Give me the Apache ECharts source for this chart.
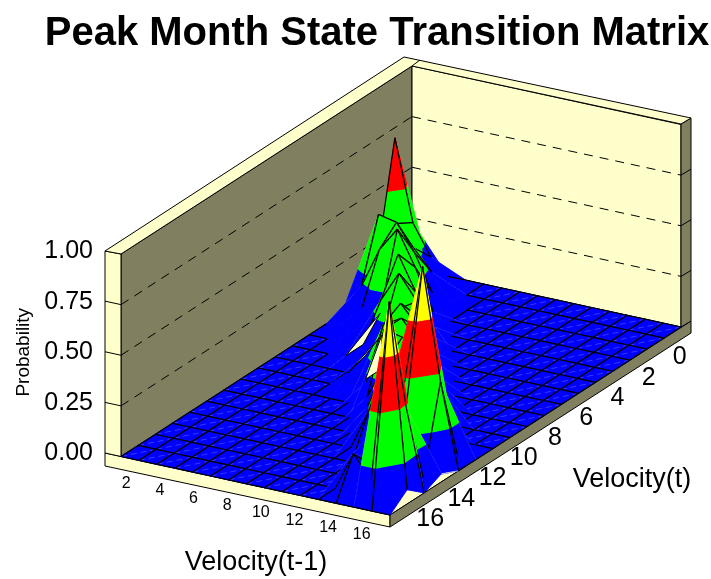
<!DOCTYPE html>
<html><head><meta charset="utf-8">
<style>html,body{margin:0;padding:0;background:#fff}#c{width:711px;height:579px}</style>
<script src="https://cdn.jsdelivr.net/npm/echarts@6/dist/echarts.min.js"></script>
</head><body><div id="c"></div>
<script>
// Probability surface, one array per Velocity(t-1) grid row, 18 Velocity(t) columns
const row00=[.02,.70,.18,.06,.02,0,0,0,0,0,0,0,0,0,0,0,0,0];
const row01=[0,.30,.35,.45,.15,.03,0,0,0,0,0,0,0,0,0,0,0,0];
const row02=[0,.15,.25,.43,.35,.12,.03,0,0,0,0,0,0,0,0,0,0,0];
const row03=[0,.001,.15,.30,.47,.11,.01,.01,0,0,0,0,0,0,0,0,0,0];
const row04=[0,0,.03,.12,.30,.42,.25,.10,0,0,0,0,0,0,0,0,0,0];
const row05=[0,0,0,0,.10,.25,.40,.15,.10,.07,0,0,0,0,0,0,0,0];
const row06=[0,0,0,0,0,.10,.28,.30,.06,.06,0,0,0,0,0,0,0,0];
const row07=[0,0,0,0,0,0,.12,.28,.40,.35,.12,0,0,0,0,0,0,0];
const row08=[0,0,0,0,0,0,0,.12,.30,.40,.40,.12,0,0,0,0,0,0];
const row09=[0,0,0,0,0,0,0,0,.14,.30,.38,.30,.15,0,0,0,0,0];
const row10=[0,0,0,0,0,0,0,0,0,.15,.35,.38,.38,.20,0,0,0,0];
const row11=[0,0,0,0,0,0,0,0,0,0,.20,.38,.38,.35,.15,0,0,0];
const row12=[0,0,0,0,0,0,0,0,0,0,0,.25,.35,.38,.35,.08,.19,0];
const row13=[0,0,0,0,0,0,0,0,0,0,0,0,.20,.97,.30,.10,.08,0];
const row14=[0,0,0,0,0,0,0,0,0,0,0,0,.001,.42,.001,.40,.98,0];
const row15=[0,0,0,0,0,0,0,0,0,0,0,0,0,0,.04,0,.07,0];
const surfaceRows=[row00,row01,row02,row03,row04,row05,row06,row07,row08,row09,row10,row11,row12,row13,row14,row15];

// undersides of the surface that show through between the ridges: triples of grid nodes
const undersideFacets=[
  [[3,7],[3,6],[3,5]],
  [[5,9],[5,8],[5,7]],
  [[6,9],[6,8],[5,7]]
];

const xTicks=[2,4,6,8,10,12,14,16];
const yTicks=[0,2,4,6,8,10,12,14,16];
const zGrid=[0.25,0.5,0.75];
const bandLevels=[0.2,0.46,0.72];
const bandColors=['#0000ff','#00ff00','#ff0000','#ffff00'];
const TITLE='Peak Month State Transition Matrix';

// oblique view of the box (pixel plane of the hidden axes)
const view={B:[412,268.5],di:[269/15,58.5/15],dj:[-291/17,188/17],dz:-202.5};
const P=(i,j,z)=>[view.B[0]+view.di[0]*i+view.dj[0]*j, view.B[1]+view.di[1]*i+view.dj[1]*j+view.dz*(z||0)];
const nI=surfaceRows.length-1, nJ=surfaceRows[0].length-1;
const xToI=v=>(v-1)/16*nI;       // Velocity(t-1) domain 1..17 over grid width
const yToJ=v=>(v+1)/18.65*nJ;    // Velocity(t) domain -1..17.65 over grid depth

function clip(poly,level,keepAbove){
  const out=[];
  for(let k=0;k<poly.length;k++){
    const a=poly[k],b=poly[(k+1)%poly.length];
    const ia=keepAbove?a[2]>=level:a[2]<=level, ib=keepAbove?b[2]>=level:b[2]<=level;
    if(ia)out.push(a);
    if(ia!==ib){const t=(level-a[2])/(b[2]-a[2]);out.push([a[0]+(b[0]-a[0])*t,a[1]+(b[1]-a[1])*t,level]);}
  }
  return out;
}
function triArea(t){const a=P(...t[0]),b=P(...t[1]),c=P(...t[2]);return (b[0]-a[0])*(c[1]-a[1])-(b[1]-a[1])*(c[0]-a[0]);}

function renderCell(params,api){
  const i=api.value(0),j=api.value(1),facet=api.value(2);
  if(facet>=0){
    const f=undersideFacets[facet];
    const pts=f.map(n=>api.coord(P(n[0],n[1],surfaceRows[n[0]][n[1]])));
    return {type:'polygon',shape:{points:pts},style:{fill:'#ffffcc',stroke:'#000',lineWidth:1}};
  }
  const Z=(a,b)=>surfaceRows[a][b];
  const pt=(a,b)=>[a,b,Z(a,b)];
  const toPx=p=>api.coord(P(p[0],p[1],p[2]));
  const A=pt(i,j),Bq=pt(i+1,j),C=pt(i+1,j+1),D=pt(i,j+1);
  const kids=[];
  const tris=[[A,Bq,D],[C,D,Bq]];
  tris.forEach(t=>{
    if(triArea(t)<=0){
      const pts=t.map(toPx);
      kids.push({type:'polygon',shape:{points:pts},style:{fill:'#ffffcc',stroke:'#ffffcc',lineWidth:.4}});
      return;
    }
    const bounds=[-1,...bandLevels,2];
    for(let b=0;b<4;b++){
      let poly=clip(t,bounds[b],true);
      if(poly.length>2)poly=clip(poly,bounds[b+1],false);
      if(poly.length>2)kids.push({type:'polygon',shape:{points:poly.map(toPx)},style:{fill:bandColors[b],stroke:bandColors[b],lineWidth:.9}});
    }
  });
  if(A[2]+Bq[2]+C[2]+D[2]===0){
    kids.push({type:'line',shape:{x1:toPx(D)[0],y1:toPx(D)[1],x2:toPx(Bq)[0],y2:toPx(Bq)[1]},style:{stroke:'rgba(255,255,255,.3)',lineWidth:.7,lineDash:[6,4]}});
  }
  [[A,Bq],[Bq,C],[C,D],[D,A]].forEach(e=>{
    const hi=Math.max(e[0][2],e[1][2]);
    if(hi===0||hi>=0.18){
      const p=toPx(e[0]),q=toPx(e[1]);
      kids.push({type:'line',shape:{x1:p[0],y1:p[1],x2:q[0],y2:q[1]},style:{stroke:'#000',lineWidth:1.2}});
    }
  });
  return {type:'group',children:kids};
}

const FACET_DEPTH=22;
const cells=[];
for(let s=0;s<=nI+nJ;s++){
  if(s===FACET_DEPTH)undersideFacets.forEach((f,k)=>cells.push([0,0,k]));
  for(let i=0;i<nI;i++){const j=s-i;if(j>=0&&j<nJ)cells.push([i,j,-1]);}
}

function renderBox(params,api){
  const c=(x,y)=>api.coord([x,y]);
  const pxy=(i,j,z)=>{const p=P(i,j,z);return api.coord(p);};
  const stroke={stroke:'#000',lineWidth:1};
  const poly=(pts,fill)=>({type:'polygon',shape:{points:pts},style:Object.assign({fill},stroke)});
  const dark='#808060',light='#ffffcc';
  const kids=[
    poly([c(105,453),c(390,515),c(691,321),c(412,268.5)],light),
    poly([c(105,453),c(390,515),c(390,527),c(105,466)],light),
    poly([c(390,515),c(691,321),c(691,333),c(390,527)],dark),
    poly([P(0,0,0),P(0,nJ,0),P(0,nJ,1),P(0,0,1)].map(p=>c(p[0],p[1])),dark),
    poly([P(0,0,0),P(nI,0,0),P(nI,0,1),P(0,0,1)].map(p=>c(p[0],p[1])),light),
    poly([c(105,453),c(121,456.5),c(121,254),c(105,251)],light),
    poly([c(681,327),c(691,321),c(691,118),c(681,124)],dark),
    poly([c(105,251),c(404,57),c(691,118),c(681,124),c(412,66),c(121,254)],light),
    {type:'line',shape:{x1:c(412,66)[0],y1:c(412,66)[1],x2:c(420,60)[0],y2:c(420,60)[1]},style:stroke}
  ];
  zGrid.forEach(z=>{
    const a=P(0,nJ,z),d=P(nI,0,z);
    kids.push({type:'line',shape:{x1:pxy(0,nJ,z)[0],y1:pxy(0,nJ,z)[1],x2:pxy(0,0,z)[0],y2:pxy(0,0,z)[1]},style:{stroke:'#000',lineWidth:1,lineDash:[9,7]}});
    kids.push({type:'line',shape:{x1:pxy(0,0,z)[0],y1:pxy(0,0,z)[1],x2:pxy(nI,0,z)[0],y2:pxy(nI,0,z)[1]},style:{stroke:'#000',lineWidth:1,lineDash:[9,7]}});
    kids.push({type:'line',shape:{x1:c(105,a[1]-3.5)[0],y1:c(105,a[1]-3.5)[1],x2:c(a[0],a[1])[0],y2:c(a[0],a[1])[1]},style:stroke});
    kids.push({type:'line',shape:{x1:c(d[0],d[1])[0],y1:c(d[0],d[1])[1],x2:c(d[0]+10,d[1]-6)[0],y2:c(d[0]+10,d[1]-6)[1]},style:stroke});
  });
  return {type:'group',children:kids};
}

function renderText(params,api){
  const kind=api.value(0),v=api.value(1);
  const font='"Liberation Sans",Arial,sans-serif';
  let pos,size,txt=String(v);
  if(kind===0){const p=P(xToI(v),nJ,0);pos=[p[0]-11.5,p[1]+23.5];size=16;}
  else{const p=P(nI,yToJ(v),0);pos=[p[0]+14.4,p[1]+20.5];size=25;}
  const q=api.coord(pos);
  return {type:'text',x:q[0],y:q[1],style:{text:txt,fill:'#000',font:size+'px '+font,textAlign:'center',textVerticalAlign:'middle'}};
}

const chart=echarts.init(document.getElementById('c'),null,{renderer:'canvas'});
chart.setOption({
  animation:false,backgroundColor:'#fff',
  title:{text:TITLE,left:372,top:9,textAlign:'center',textStyle:{fontFamily:'"Liberation Sans",Arial,sans-serif',fontWeight:'bold',fontSize:40,color:'#000'}},
  grid:[
    {left:0,top:0,width:711,height:579,show:false},
    {left:105,top:251.5,width:10,height:201.5,show:false}
  ],
  xAxis:[
    {gridIndex:0,type:'value',min:0,max:711,show:false},
    {gridIndex:1,type:'value',min:0,max:1,show:false}
  ],
  yAxis:[
    {gridIndex:0,type:'value',min:0,max:579,inverse:true,show:false},
    {gridIndex:1,type:'value',min:0,max:1,interval:0.25,name:'Probability',nameLocation:'middle',nameGap:72,
     nameTextStyle:{fontFamily:'"Liberation Sans",Arial,sans-serif',fontSize:19,color:'#000'},
     axisLine:{show:false},axisTick:{show:false},splitLine:{show:false},
     axisLabel:{margin:12,fontFamily:'"Liberation Sans",Arial,sans-serif',fontSize:25,color:'#000',formatter:v=>v.toFixed(2)}}
  ],
  graphic:[
    {type:'text',x:256,y:563,style:{text:'Velocity(t-1)',font:'27px "Liberation Sans",Arial,sans-serif',fill:'#000',textAlign:'center',textVerticalAlign:'middle'}},
    {type:'text',x:632,y:480,style:{text:'Velocity(t)',font:'27px "Liberation Sans",Arial,sans-serif',fill:'#000',textAlign:'center',textVerticalAlign:'middle'}}
  ],
  series:[
    {type:'custom',xAxisIndex:0,yAxisIndex:0,silent:true,clip:false,renderItem:renderBox,data:[[0,0]],z:1},
    {type:'custom',xAxisIndex:0,yAxisIndex:0,silent:true,clip:false,renderItem:renderCell,data:cells,z:2,progressive:0},
    {type:'custom',xAxisIndex:0,yAxisIndex:0,silent:true,clip:false,renderItem:renderText,data:xTicks.map(v=>[0,v]).concat(yTicks.map(v=>[1,v])),z:4}
  ]
});
</script></body></html>
